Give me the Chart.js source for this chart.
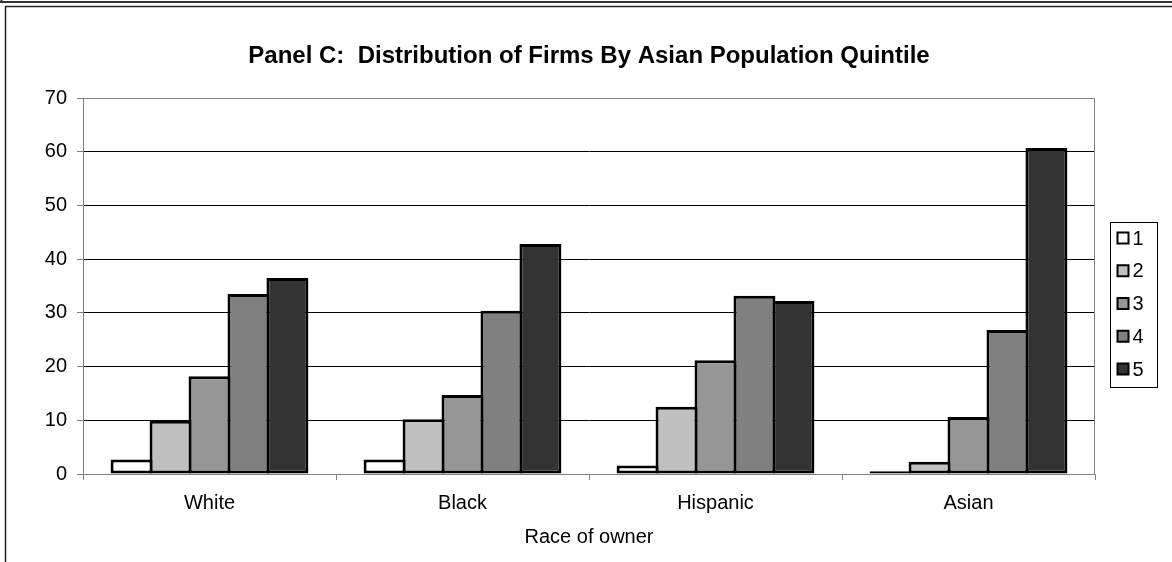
<!DOCTYPE html>
<html>
<head>
<meta charset="utf-8">
<script src="https://cdn.jsdelivr.net/npm/chart.js@4.4.1/dist/chart.umd.min.js"></script>
<style>
    html, body { margin: 0; padding: 0; background: #fff; }
</style>
</head>
<body>
<canvas id="chartC" width="1172" height="562"></canvas>
<script>
// owner race categories and share of firms (%) by Asian population quintile
const races = ['White', 'Black', 'Hispanic', 'Asian'];
const quintileLabels = ['1', '2', '3', '4', '5'];
const quintile1 = [2.7, 2.7, 1.6, 0.5];
const quintile2 = [9.9, 10.2, 12.5, 2.3];
const quintile3 = [18.2, 14.7, 21.2, 10.6];
const quintile4 = [33.5, 30.4, 33.2, 26.8];
const quintile5 = [36.5, 42.8, 32.2, 60.7];
const yTicks = [0, 10, 20, 30, 40, 50, 60, 70];

const fills = ['#ffffff', '#c0c0c0', '#969696', '#808080', '#333333'];
const font = 'Liberation Sans, Arial, sans-serif';

// page frame lines around the panel
const framePlugin = {
    id: 'frame',
    beforeDraw(chart) {
        const c = chart.ctx;
        c.save();
        c.strokeStyle = '#333';
        c.lineWidth = 2;
        c.beginPath();
        c.moveTo(0, 2); c.lineTo(chart.width, 2);
        c.moveTo(1.5, 0); c.lineTo(1.5, 3);
        c.stroke();
        c.lineWidth = 1.5;
        c.strokeStyle = '#222';
        c.beginPath();
        c.moveTo(5.5, chart.height); c.lineTo(5.5, 6.5); c.lineTo(chart.width, 6.5);
        c.stroke();
        c.restore();
    },
    afterDatasetsDraw(chart) {
        // plot area border on top and right
        const a = chart.chartArea;
        const c = chart.ctx;
        c.save();
        c.strokeStyle = '#808080';
        c.lineWidth = 1;
        c.beginPath();
        c.moveTo(a.left, a.top + 0.5);
        c.lineTo(a.right - 0.5, a.top + 0.5);
        c.lineTo(a.right - 0.5, a.bottom);
        c.stroke();
        c.restore();
    }
};

// boxed legend to the right of the plot
const boxLegend = {
    id: 'boxLegend',
    afterDraw(chart) {
        const a = chart.chartArea;
        const c = chart.ctx;
        const left = a.right + 15.5;
        const top = a.top + 124.5;
        const rowGap = 32.75;
        const sets = chart.data.datasets;
        c.save();
        c.strokeStyle = '#000';
        c.lineWidth = 1;
        c.strokeRect(left, top, 47, 165);
        c.font = '20px ' + font;
        c.textBaseline = 'middle';
        sets.forEach((ds, i) => {
            const cy = top + 15.5 + i * rowGap;
            c.fillStyle = ds.backgroundColor;
            c.fillRect(left + 7, cy - 5.5, 11, 11);
            c.lineWidth = 2;
            c.strokeStyle = '#000';
            c.strokeRect(left + 7, cy - 5.5, 11, 11);
            c.fillStyle = '#000';
            c.fillText(ds.label, left + 22, cy + 1);
        });
        c.restore();
    }
};

const series = [quintile1, quintile2, quintile3, quintile4, quintile5];

new Chart(document.getElementById('chartC'), {
    type: 'bar',
    data: {
        labels: races,
        datasets: series.map((vals, i) => ({
            label: quintileLabels[i],
            data: vals,
            backgroundColor: fills[i],
            borderColor: '#000',
            borderWidth: 3,
            borderSkipped: false,
            categoryPercentage: 0.77,
            barPercentage: 1.077
        }))
    },
    options: {
        responsive: false,
        animation: false,
        devicePixelRatio: 1,
        layout: {
            padding: { left: 0, right: 77, top: 0, bottom: 0 }
        },
        plugins: {
            legend: { display: false },
            tooltip: { enabled: false },
            title: {
                display: true,
                fullSize: false,
                text: 'Panel C:  Distribution of Firms By Asian Population Quintile',
                color: '#000',
                font: { family: font, size: 24, weight: 'bold' },
                padding: { top: 42, bottom: 27.2 }
            }
        },
        scales: {
            x: {
                afterFit(scale) { scale.height = 88; },
                grid: {
                    display: true,
                    drawOnChartArea: false,
                    offset: true,
                    tickLength: 6,
                    color: '#808080'
                },
                border: { color: '#808080', width: 1 },
                ticks: {
                    color: '#000',
                    padding: 11,
                    font: { family: font, size: 20 }
                },
                title: {
                    display: true,
                    text: 'Race of owner',
                    color: '#000',
                    font: { family: font, size: 20 },
                    padding: { top: 0, bottom: 13 }
                }
            },
            y: {
                min: 0,
                max: 70,
                afterFit(scale) { scale.width = 83; },
                afterBuildTicks(scale) {
                    scale.ticks = yTicks.map(v => ({ value: v }));
                },
                grid: {
                    tickLength: 6,
                    color: ctx => (ctx.tick.value === 70 || ctx.tick.value === 0) ? '#808080' : '#000',
                    tickColor: '#808080'
                },
                border: { color: '#808080', width: 1 },
                ticks: {
                    color: '#000',
                    padding: 10,
                    font: { family: font, size: 20 }
                }
            }
        }
    },
    plugins: [framePlugin, boxLegend]
});
</script>
</body>
</html>
